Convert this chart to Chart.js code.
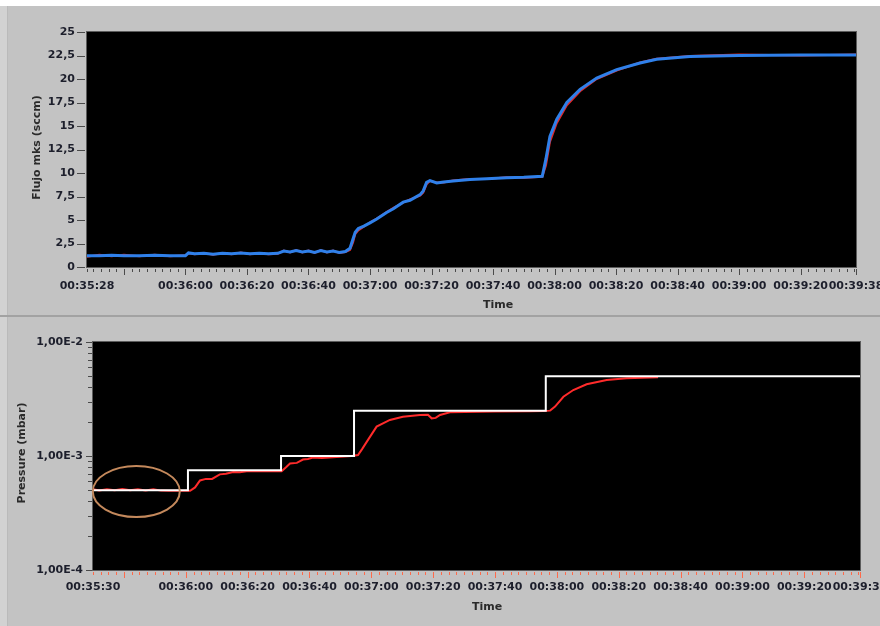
<!DOCTYPE html>
<html>
<head>
<meta charset="utf-8">
<script src="https://cdn.jsdelivr.net/npm/chart.js@4.4.1/dist/chart.umd.min.js"></script>
<style>
  html, body { margin: 0; padding: 0; background: #ffffff; }
  #frame { position: relative; width: 880px; height: 626px; overflow: hidden; background: #ffffff; }
  .panel { position: absolute; left: 0; width: 880px; background: #c3c3c3; }
  .panel .edge { position: absolute; left: 0; top: 0; width: 7px; height: 100%; background: #d2d2d2; border-right: 1px solid #bababa; }
  #panelTop { top: 6px; height: 309px; }
  #panelSep { position: absolute; left: 0; top: 315px; width: 880px; height: 2px; background: #a2a2a2; }
  #panelBottom { top: 317px; height: 309px; }
  canvas { position: absolute; left: 0; }
  #flowChart { top: 0; }
  #pressureChart { top: 316px; }
</style>
</head>
<body>
<div id="frame">
  <div class="panel" id="panelTop"><div class="edge"></div></div>
  <div id="panelSep"></div>
  <div class="panel" id="panelBottom"><div class="edge"></div></div>
  <canvas id="flowChart" width="880" height="316"></canvas>
  <canvas id="pressureChart" width="880" height="310"></canvas>
</div>
<script>
// ---- Flow (sccm) vs time, seconds since 00:00:00 ----
const flowTime = [
  2128, 2132, 2136, 2140, 2145, 2150, 2155, 2160,
  2161, 2163, 2166, 2169, 2172, 2175, 2178, 2181, 2184, 2187, 2190,
  2192, 2194, 2196, 2198, 2200, 2202, 2204, 2206, 2208, 2210, 2212,
  2213.5, 2214.5, 2215.2, 2216.2, 2218, 2220, 2222.2, 2225.4, 2227.6, 2230.8, 2233, 2236.3, 2237.3, 2238.4, 2239.5, 2241.7, 2244, 2247, 2252.5, 2258, 2264.4, 2270, 2276,
  2277.2, 2278.5, 2280.7, 2284, 2288.3, 2293.7, 2300.2, 2307.8, 2313.2, 2324, 2340, 2360, 2378
];
const flowMks = [
  1.2, 1.2, 1.25, 1.2, 1.2, 1.25, 1.2, 1.2,
  1.5, 1.4, 1.45, 1.35, 1.45, 1.4, 1.5, 1.4, 1.45, 1.4, 1.45,
  1.7, 1.6, 1.75, 1.6, 1.7, 1.55, 1.75, 1.6, 1.7, 1.55, 1.65,
  2.0, 3.0, 3.7, 4.1, 4.35, 4.7, 5.1, 5.8, 6.2, 6.9, 7.1, 7.7, 8.1, 9.0, 9.2, 8.95, 9.05, 9.15, 9.3, 9.4, 9.5, 9.55, 9.65,
  11.5, 13.9, 15.7, 17.5, 18.9, 20.1, 21.0, 21.7, 22.1, 22.4, 22.5, 22.55, 22.55
];
const flowAux = [
  1.1, 1.3, 1.15, 1.3, 1.15, 1.3, 1.15, 1.25,
  1.45, 1.35, 1.5, 1.3, 1.5, 1.35, 1.55, 1.35, 1.5, 1.35, 1.4,
  1.75, 1.55, 1.8, 1.55, 1.75, 1.5, 1.8, 1.55, 1.75, 1.5, 1.6,
  1.8, 2.6, 3.5, 3.9, 4.3, 4.75, 5.15, 5.85, 6.3, 6.85, 7.2, 7.6, 7.9, 8.8, 9.15, 9.0, 9.0, 9.2, 9.35, 9.35, 9.55, 9.5, 9.6,
  10.8, 13.3, 15.3, 17.2, 18.7, 20.0, 20.9, 21.75, 22.15, 22.45, 22.6, 22.5, 22.6
];
const flowTicks = [0, 2.5, 5, 7.5, 10, 12.5, 15, 17.5, 20, 22.5, 25];

// ---- Pressure (mbar) vs time ----
const pressTime = [
  2130, 2132, 2134.5, 2137, 2139.5, 2142, 2144.5, 2147, 2149.5, 2152, 2154.5, 2157, 2161.4,
  2163, 2164.6, 2166.5, 2168.5, 2171, 2173, 2175.3, 2177.5, 2179.7, 2183, 2186, 2189, 2191,
  2192.5, 2193.7, 2195.9, 2197.9, 2199.5, 2201.1, 2204, 2208.8, 2213.6,
  2215.7, 2217, 2218.5, 2221.7, 2226, 2230.2, 2235.7, 2238.3, 2239.5, 2240.8, 2242.2, 2245.4, 2260, 2271.3, 2275.5,
  2277.8, 2279.4, 2282.1, 2285.3, 2289.6, 2296.1, 2302.5, 2312.7
];
const pressure = [
  5.1e-4, 4.98e-4, 5.12e-4, 5.0e-4, 5.13e-4, 5.0e-4, 5.12e-4, 4.98e-4, 5.1e-4, 4.97e-4, 4.95e-4, 4.95e-4, 4.95e-4,
  5.3e-4, 6.1e-4, 6.3e-4, 6.3e-4, 6.9e-4, 7.0e-4, 7.25e-4, 7.2e-4, 7.35e-4, 7.4e-4, 7.35e-4, 7.4e-4, 7.35e-4,
  8.0e-4, 8.6e-4, 8.7e-4, 9.3e-4, 9.4e-4, 9.7e-4, 9.6e-4, 9.8e-4, 1.0e-3,
  1.02e-3, 1.15e-3, 1.33e-3, 1.81e-3, 2.07e-3, 2.21e-3, 2.29e-3, 2.3e-3, 2.14e-3, 2.16e-3, 2.29e-3, 2.42e-3, 2.46e-3, 2.47e-3, 2.48e-3,
  2.5e-3, 2.71e-3, 3.31e-3, 3.79e-3, 4.26e-3, 4.64e-3, 4.8e-3, 4.9e-3
];
const setTime = [2130, 2160.7, 2190.8, 2214.4, 2276.4, 2378];
const setPressure = [5e-4, 7.5e-4, 1e-3, 2.5e-3, 5e-3, 5e-3];
const pressDecades = [1e-4, 1e-3, 1e-2];

const LABEL_FONT = { family: 'DejaVu Sans', size: 11, weight: 'bold' };
const LABEL_COLOR = '#1d1f2c';

function hms(v) {
  const t = Math.round(v);
  const h = Math.floor(t / 3600), m = Math.floor((t % 3600) / 60), s = t % 60;
  return [h, m, s].map(n => String(n).padStart(2, '0')).join(':');
}
function pairs(xs, ys) { return xs.map((x, i) => ({ x, y: ys[i] })); }
function isDecade(v) { const l = Math.log10(v); return Math.abs(l - Math.round(l)) < 1e-9; }

// time axis: minor every 2.5 s, labels on :00/:20/:40 plus both ends
function timeTicks(scale) {
  const lo = scale.min, hi = scale.max, out = [{ value: lo }];
  for (let v = Math.ceil(lo / 2.5) * 2.5; v < hi; v += 2.5) if (v > lo) out.push({ value: v });
  out.push({ value: hi });
  scale.ticks = out;
}
function timeLabel(v, i, ticks) {
  const first = ticks[0].value;
  if (i === 0 || i === ticks.length - 1) return hms(v);
  if (v % 20 === 0 && v - first >= 15) return hms(v);
  return '';
}

// black plot area with thin grey outline
const plotFrame = {
  id: 'plotFrame',
  beforeDraw(chart) {
    const { ctx, chartArea: a } = chart;
    ctx.save();
    ctx.fillStyle = '#000000';
    ctx.fillRect(a.left, a.top, a.right - a.left, a.bottom - a.top);
    ctx.strokeStyle = '#5c5c5c';
    ctx.lineWidth = 1;
    ctx.strokeRect(a.left - 0.5, a.top - 0.5, a.right - a.left + 1, a.bottom - a.top + 1);
    ctx.restore();
  }
};

// tick marks (major/minor) drawn from each scale's own ticks
const tickMarks = {
  id: 'tickMarks',
  afterDraw(chart, args, opts) {
    const ctx = chart.ctx;
    ['x', 'y'].forEach(id => {
      const s = chart.scales[id], o = opts[id];
      if (!s || !o) return;
      const n = s.ticks.length;
      ctx.save();
      ctx.strokeStyle = o.color;
      ctx.lineWidth = 1;
      s.ticks.forEach((t, i) => {
        let major;
        if (o.mode === 'log') major = isDecade(t.value);
        else if (o.mode === 'time') major = (t.value % 20 === 0) || i === n - 1;
        else major = true;
        const len = major ? o.major : o.minor;
        const p = Math.round(s.getPixelForValue(t.value)) + 0.5;
        ctx.beginPath();
        if (id === 'x') {
          const y0 = s.top + o.gap;
          ctx.moveTo(p, y0); ctx.lineTo(p, y0 + len);
        } else {
          const x0 = s.right - o.gap;
          ctx.moveTo(x0, p); ctx.lineTo(x0 - len, p);
        }
        ctx.stroke();
      });
      ctx.restore();
    });
  }
};

// axis titles
const axisTitles = {
  id: 'axisTitles',
  afterDraw(chart, args, opts) {
    const { ctx, chartArea: a } = chart;
    ctx.save();
    ctx.font = 'bold 11px "DejaVu Sans"';
    ctx.fillStyle = opts.color;
    ctx.textAlign = 'center';
    ctx.textBaseline = 'middle';
    ctx.fillText(opts.x, a.left + opts.xDx, a.bottom + opts.xDy);
    ctx.translate(opts.yX, (a.top + a.bottom) / 2 + opts.yDy);
    ctx.rotate(-Math.PI / 2);
    ctx.fillText(opts.y, 0, 0);
    ctx.restore();
  }
};

// ellipse marking the initial pressure level
const ringMark = {
  id: 'ringMark',
  afterDatasetsDraw(chart, args, opts) {
    if (!opts.show) return;
    const { ctx } = chart;
    const cx = chart.scales.x.getPixelForValue(opts.time);
    const cy = chart.scales.y.getPixelForValue(opts.value);
    ctx.save();
    ctx.strokeStyle = opts.color;
    ctx.lineWidth = 2;
    ctx.beginPath();
    ctx.ellipse(cx, cy, opts.rx, opts.ry, 0, 0, Math.PI * 2);
    ctx.stroke();
    ctx.restore();
  }
};

function fixWidth(w) { return s => { s.width = w; s.paddingTop = 0; s.paddingBottom = 0; }; }
function fixHeight(h) { return s => { s.height = h; s.paddingLeft = 0; s.paddingRight = 0; }; }

new Chart(document.getElementById('flowChart'), {
  type: 'line',
  data: {
    datasets: [
      { label: 'Flujo mks', data: pairs(flowTime, flowMks), borderColor: '#2f80ea', borderWidth: 3, pointRadius: 0, tension: 0 },
      { label: 'Flujo ref', data: pairs(flowTime, flowAux), borderColor: '#e0282a', borderWidth: 2, pointRadius: 0, tension: 0 }
    ]
  },
  options: {
    responsive: false, animation: false, devicePixelRatio: 1,
    layout: { padding: { top: 32, right: 24, left: 0, bottom: 0 } },
    scales: {
      x: {
        type: 'linear', min: 2128, max: 2378,
        afterBuildTicks: timeTicks, afterFit: fixHeight(49),
        grid: { display: false, drawTicks: false }, border: { display: false },
        ticks: { autoSkip: false, maxRotation: 0, minRotation: 0, padding: 13, font: LABEL_FONT, color: LABEL_COLOR, callback: timeLabel }
      },
      y: {
        type: 'linear', min: 0, max: 25,
        afterBuildTicks: s => { s.ticks = flowTicks.map(v => ({ value: v })); },
        afterFit: fixWidth(87),
        grid: { display: false, drawTicks: false }, border: { display: false },
        ticks: { autoSkip: false, padding: 12, font: LABEL_FONT, color: LABEL_COLOR, callback: v => String(v).replace('.', ',') }
      }
    },
    plugins: {
      legend: { display: false }, tooltip: { enabled: false },
      tickMarks: { x: { mode: 'time', color: '#4a4a4a', gap: 2, major: 6, minor: 3 }, y: { mode: 'all', color: '#4a4a4a', gap: 2, major: 8, minor: 8 } },
      axisTitles: { x: 'Time', y: 'Flujo mks (sccm)', color: '#2a2a2a', xDx: 411, xDy: 38, yX: 37, yDy: -2 },
      ringMark: { show: false }
    }
  },
  plugins: [plotFrame, tickMarks, axisTitles, ringMark]
});

new Chart(document.getElementById('pressureChart'), {
  type: 'line',
  data: {
    datasets: [
      { label: 'Setpoint', data: pairs(setTime, setPressure), borderColor: '#ffffff', borderWidth: 2, pointRadius: 0, stepped: true },
      { label: 'Pressure', data: pairs(pressTime, pressure), borderColor: '#ff2b2b', borderWidth: 2, pointRadius: 0, tension: 0 }
    ]
  },
  options: {
    responsive: false, animation: false, devicePixelRatio: 1,
    layout: { padding: { top: 26, right: 20, left: 0, bottom: 0 } },
    scales: {
      x: {
        type: 'linear', min: 2130, max: 2378,
        afterBuildTicks: timeTicks, afterFit: fixHeight(56),
        grid: { display: false, drawTicks: false }, border: { display: false },
        ticks: { autoSkip: false, maxRotation: 0, minRotation: 0, padding: 11, font: LABEL_FONT, color: LABEL_COLOR, callback: timeLabel }
      },
      y: {
        type: 'logarithmic', min: 1e-4, max: 1e-2,
        afterBuildTicks: s => {
          const out = [];
          for (let e = -4; e <= -2; e++) for (let m = 1; m <= 9; m++) {
            if (e === -2 && m > 1) break;
            out.push({ value: m * Math.pow(10, e) });
          }
          s.ticks = out;
        },
        afterFit: fixWidth(93),
        grid: { display: false, drawTicks: false }, border: { display: false },
        ticks: { autoSkip: false, padding: 10, font: LABEL_FONT, color: LABEL_COLOR,
          callback: v => isDecade(v) ? Number(v).toExponential(2).replace('.', ',').replace('e', 'E') : '' }
      }
    },
    plugins: {
      legend: { display: false }, tooltip: { enabled: false },
      tickMarks: { x: { mode: 'time', color: '#ff6a4a', gap: 2, major: 6, minor: 3 }, y: { mode: 'log', color: '#4a4a4a', gap: 1, major: 6, minor: 4 } },
      axisTitles: { x: 'Time', y: 'Pressure (mbar)', color: '#2a2a2a', xDx: 394, xDy: 37, yX: 22, yDy: -3 },
      ringMark: { show: true, time: 2144, value: 4.88e-4, rx: 43.5, ry: 25.5, color: '#c4895c' }
    }
  },
  plugins: [plotFrame, tickMarks, axisTitles, ringMark]
});
</script>
</body>
</html>
